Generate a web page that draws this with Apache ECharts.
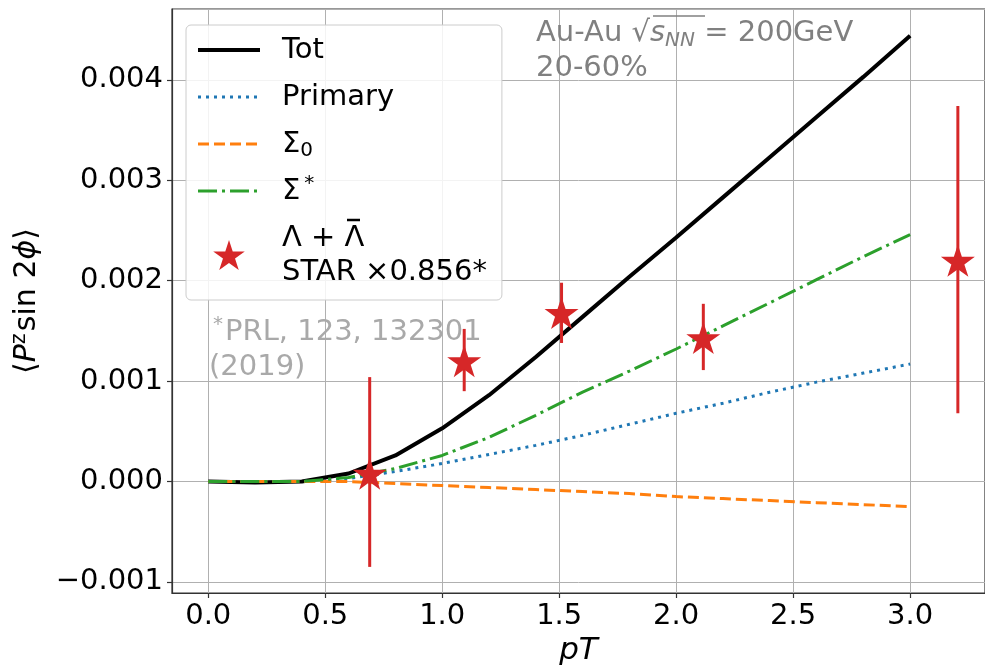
<!DOCTYPE html>
<html>
<head>
<meta charset="utf-8">
<script src="https://cdn.jsdelivr.net/npm/echarts@6/dist/echarts.min.js"></script>
<style>
  html, body { margin: 0; padding: 0; background: #fff; }
  #chart { width: 985px; height: 668px; }
</style>
</head>
<body>
<div id="chart"></div>
<script>
// pT grid of the model curves
const pt = [0.0, 0.2, 0.4, 0.6, 0.8, 1.0, 1.2, 1.4, 1.6, 1.8, 2.0, 2.2, 2.4, 2.6, 2.8, 3.0];
const tot = [0, -0.00001, 0, 0.00008, 0.00026, 0.00053, 0.00086, 0.00124, 0.00164, 0.00204, 0.00243, 0.00283, 0.00323, 0.00363, 0.00403, 0.00444];
const primary = [0, 0, 0, 0.00003, 0.00010, 0.00018, 0.00027, 0.00036, 0.00046, 0.00057, 0.00068, 0.00078, 0.00089, 0.00099, 0.00108, 0.00117];
const sigma0 = [0, 0, 0, 0, -0.00002, -0.00004, -0.00006, -0.00008, -0.00010, -0.00012, -0.00015, -0.00017, -0.00019, -0.00021, -0.00023, -0.00025];
const sigmaStar = [0, 0, 0, 0.00004, 0.00013, 0.00026, 0.00044, 0.00066, 0.00089, 0.00110, 0.00132, 0.00155, 0.00178, 0.00201, 0.00224, 0.00246];

// STAR data (scaled)
const starX = [0.69, 1.094, 1.51, 2.116, 3.204];
const starY = [0.00008, 0.00120, 0.00168, 0.00143, 0.00220];
const starLo = [-0.00085, 0.00090, 0.00138, 0.00111, 0.00068];
const starHi = [0.00104, 0.00152, 0.00198, 0.00177, 0.00374];

const FONT = 'DejaVu Sans';
const STAR_PATH = 'path://M100 0L122.45 69.1L195.11 69.1L136.33 111.8L158.78 180.9L100 138.2L41.22 180.9L63.67 111.8L4.89 69.1L77.55 69.1Z';

const DASH_DOT = [3, 5];
const DASH = [11, 5];
const DASH_DOTDASH = [19, 5, 3, 5];

const pair = (xs, ys) => xs.map((x, i) => [x, ys[i]]);

const lineSeries = (name, data, color, width, type) => ({
  name,
  type: 'line',
  data: pair(pt, data),
  symbol: 'none',
  showSymbol: false,
  lineStyle: { color, width, type, cap: 'butt' },
  itemStyle: { color },
  emphasis: { disabled: true }
});

const legendLabels = {
  'Tot': 'Tot',
  'Primary': 'Primary',
  'Sigma0': 'Σ{sub|0}',
  'SigmaStar': 'Σ{sup|*}',
  'STAR': 'Λ + Λ\nSTAR ×0.856*'
};
// line entries: hide the marker the legend puts in the middle of the line
const noMarker = { color: 'transparent', borderWidth: 0, opacity: 0 };

const chart = echarts.init(document.getElementById('chart'));
chart.setOption({
  animation: false,
  backgroundColor: '#fff',
  textStyle: { fontFamily: FONT },
  grid: {
    left: 172, right: 0, top: 9, bottom: 75,
    outerBoundsMode: 'none',
    containLabel: false,
    show: true, borderColor: '#333', borderWidth: 1.2
  },
  xAxis: {
    type: 'value',
    min: -0.155, max: 3.32,
    splitNumber: 7,
    name: 'pT',
    nameLocation: 'middle',
    nameGap: 40,
    nameTextStyle: { fontFamily: FONT, fontSize: 31, fontStyle: 'italic', color: '#000' },
    axisLine: { onZero: false, lineStyle: { color: '#333', width: 1.2 } },
    axisTick: { show: true, length: 5, lineStyle: { color: '#333', width: 1.2 } },
    axisLabel: {
      fontFamily: FONT, fontSize: 29, color: '#000', margin: 9,
      showMinLabel: false, showMaxLabel: false,
      formatter: v => v.toFixed(1)
    },
    splitLine: { show: true, lineStyle: { color: '#b0b0b0', width: 1 } }
  },
  yAxis: {
    type: 'value',
    min: -0.00111, max: 0.004706,
    splitNumber: 6,
    name: '⟨{i|P}{sup|z}sin 2{i|ϕ}⟩',
    nameLocation: 'middle',
    nameRotate: 90,
    nameGap: 110,
    nameTextStyle: {
      fontFamily: FONT, fontSize: 30, color: '#000',
      rich: {
        i: { fontFamily: FONT, fontSize: 30, fontStyle: 'italic', lineHeight: 36 },
        sup: { fontFamily: FONT, fontSize: 21, lineHeight: 21, padding: [0, 2, 15, 0] }
      }
    },
    axisLine: { onZero: false, lineStyle: { color: '#333', width: 1.2 } },
    axisTick: { show: true, length: 5, lineStyle: { color: '#333', width: 1.2 } },
    axisLabel: {
      fontFamily: FONT, fontSize: 29, color: '#000', margin: 9,
      showMinLabel: false, showMaxLabel: false,
      formatter: v => (v < -1e-12 ? '\u2212' : '') + Math.abs(v).toFixed(3)
    },
    splitLine: { show: true, lineStyle: { color: '#b0b0b0', width: 1 } }
  },
  legend: {
    orient: 'vertical',
    left: 186, top: 25,
    padding: [8, 15, 11, 10],
    itemWidth: 62,
    itemHeight: 30,
    itemGap: 13,
    backgroundColor: 'rgba(255,255,255,0.85)',
    borderColor: '#cccccc',
    borderWidth: 1,
    borderRadius: 5,
    data: [
      { name: 'Tot', itemStyle: noMarker, lineStyle: { width: 4, type: 'solid' } },
      { name: 'Primary', itemStyle: noMarker, lineStyle: { width: 3, type: DASH_DOT } },
      { name: 'Sigma0', itemStyle: noMarker, lineStyle: { width: 3, type: DASH } },
      { name: 'SigmaStar', itemStyle: noMarker, lineStyle: { width: 3, type: DASH_DOTDASH } },
      { name: 'STAR' }
    ],
    formatter: name => legendLabels[name],
    textStyle: {
      fontFamily: FONT, fontSize: 29, color: '#000', lineHeight: 34,
      padding: [0, 0, 0, 17],
      rich: {
        sub: { fontFamily: FONT, fontSize: 20, lineHeight: 20, padding: [14, 0, 0, 0] },
        sup: { fontFamily: FONT, fontSize: 20, lineHeight: 20, padding: [0, 0, 14, 4] }
      }
    }
  },
  graphic: [
    {
      type: 'text', left: 536, top: 16, z: 10,
      style: {
        text: '{n|Au-Au }{n|√}{i|s}{sub|NN}{n| = 200GeV}\n{n|20-60%}',
        fill: '#808080',
        font: '29px "DejaVu Sans"',
        rich: {
          n: { fontFamily: FONT, fontSize: 29, fill: '#808080', lineHeight: 35 },
          i: { fontFamily: FONT, fontSize: 29, fontStyle: 'italic', fill: '#808080', lineHeight: 35 },
          sub: { fontFamily: FONT, fontSize: 20, fontStyle: 'italic', fill: '#808080', lineHeight: 20, padding: [15, 0, 0, 0] }
        }
      }
    },
    {
      // overline of the square root
      type: 'line', z: 10,
      shape: { x1: 653, y1: 16, x2: 705, y2: 16 },
      style: { stroke: '#808080', lineWidth: 1.5 }
    },
    {
      // bar of the anti-Lambda in the legend
      type: 'line', z: 200,
      shape: { x1: 347, y1: 220, x2: 360, y2: 220 },
      style: { stroke: '#000', lineWidth: 2.5 }
    },
    {
      type: 'text', left: 209, top: 315, z: 10,
      style: {
        text: '{sup|*}{n|PRL, 123, 132301}\n{n|(2019)}',
        fill: '#a9a9a9',
        font: '29px "DejaVu Sans"',
        rich: {
          n: { fontFamily: FONT, fontSize: 29, fill: '#a9a9a9', lineHeight: 35 },
          sup: { fontFamily: FONT, fontSize: 20, fill: '#a9a9a9', lineHeight: 20, padding: [0, 2, 15, 4] }
        }
      }
    }
  ],
  series: [
    lineSeries('Tot', tot, '#000000', 4, 'solid'),
    lineSeries('Primary', primary, '#1f77b4', 3, DASH_DOT),
    lineSeries('Sigma0', sigma0, '#ff7f0e', 3, DASH),
    lineSeries('SigmaStar', sigmaStar, '#2ca02c', 3, DASH_DOTDASH),
    {
      name: 'STARerr',
      type: 'custom',
      data: starX.map((x, i) => [x, starLo[i], starHi[i]]),
      encode: { x: 0, y: [1, 2] },
      z: 5,
      renderItem: (params, api) => {
        const a = api.coord([api.value(0), api.value(1)]);
        const b = api.coord([api.value(0), api.value(2)]);
        return {
          type: 'line',
          shape: { x1: a[0], y1: a[1], x2: b[0], y2: b[1] },
          style: { stroke: '#d62728', lineWidth: 3 }
        };
      }
    },
    {
      name: 'STAR',
      type: 'scatter',
      data: pair(starX, starY),
      symbol: STAR_PATH,
      symbolSize: 34,
      symbolKeepAspect: true,
      itemStyle: { color: '#d62728', opacity: 1 },
      z: 6,
      emphasis: { disabled: true }
    }
  ]
});
</script>
</body>
</html>
